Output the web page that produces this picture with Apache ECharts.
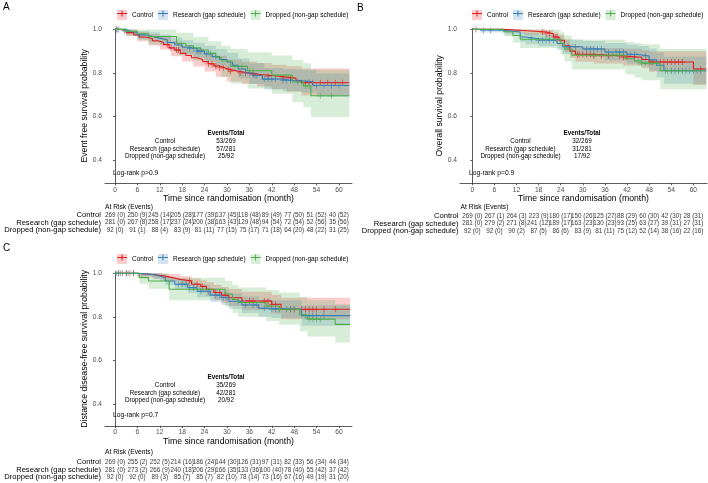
<!DOCTYPE html>
<html>
<head>
<meta charset="utf-8">
<script src="https://cdn.jsdelivr.net/npm/echarts@6/dist/echarts.min.js"></script>
<style>
  html, body { margin: 0; padding: 0; background: #fff; }
  #chart { width: 708px; height: 483px; }
</style>
</head>
<body>
<div id="chart"></div>
<script>
const groups = ['Control', 'Research (gap schedule)', 'Dropped (non-gap schedule)'];
const monthTicks = [0, 6, 12, 18, 24, 30, 36, 42, 48, 54, 60];
const probTicks = [0.4, 0.6, 0.8, 1.0];

// ---- A: event free survival ----
const efsControl = [[0,1],[1.5,0.995],[3,0.985],[5,0.975],[6.5,0.965],[8,0.958],[10,0.948],[11.5,0.94],[13,0.93],[14.5,0.915],[16,0.905],[17.5,0.89],[19,0.88],[20.5,0.87],[22,0.862],[23.5,0.852],[25,0.842],[26.5,0.832],[28,0.823],[29.5,0.815],[31,0.808],[33,0.8],[36,0.793],[39,0.785],[44,0.776],[48.5,0.765],[50,0.755],[62.8,0.755]];
const efsResearch = [[0,1],[2,0.993],[4,0.985],[6,0.975],[8,0.968],[10,0.96],[12,0.952],[14,0.94],[16,0.928],[18,0.918],[20,0.912],[22,0.9],[24,0.888],[26,0.875],[28,0.862],[30,0.85],[31.5,0.835],[33,0.818],[35,0.8],[37,0.788],[39.5,0.772],[44,0.765],[48,0.76],[53,0.742],[62.8,0.742]];
const efsDropped = [[0,1],[3,0.99],[6,0.98],[9,0.967],[16.5,0.935],[19,0.925],[21,0.915],[23,0.905],[25,0.89],[27,0.872],[28.5,0.855],[31,0.83],[35.5,0.81],[42,0.79],[47.5,0.758],[50.5,0.74],[52.5,0.695],[62.8,0.695]];
// [time, lower, upper]
const efsControlBand = [[0,1,1],[3,0.97,1],[6,0.945,0.987],[9,0.926,0.978],[12,0.908,0.968],[15,0.877,0.945],[18,0.853,0.928],[21,0.83,0.911],[24,0.806,0.895],[27,0.783,0.879],[30,0.761,0.862],[34,0.75,0.853],[38,0.738,0.846],[42,0.726,0.838],[46,0.714,0.831],[50,0.696,0.82],[62.8,0.696,0.82]];
const efsResearchBand = [[0,1,1],[3,0.978,1],[6,0.957,0.993],[9,0.943,0.987],[12,0.927,0.977],[15,0.907,0.963],[18,0.887,0.95],[21,0.871,0.939],[24,0.851,0.925],[27,0.83,0.91],[30,0.808,0.893],[33,0.776,0.866],[36,0.749,0.844],[40,0.724,0.823],[45,0.716,0.817],[50,0.71,0.813],[54,0.69,0.797],[62.8,0.69,0.797]];
const efsDroppedBand = [[0,1,1],[3,0.97,1],[6,0.951,1],[9,0.931,1],[16.5,0.884,0.985],[21,0.857,0.965],[25,0.825,0.945],[28.5,0.781,0.925],[31,0.752,0.91],[35.5,0.728,0.895],[42,0.704,0.88],[47.5,0.665,0.86],[50.5,0.643,0.845],[52.5,0.597,0.815],[62.8,0.597,0.815]];
const efsControlCensor = [0.5, 14, 15, 16.5, 17, 25, 26, 27, 28, 29, 30.5, 31, 33.5, 35, 37, 41, 45, 47, 51, 53, 55, 57, 59, 61];
const efsResearchCensor = [0.5, 1, 2.5, 3, 20, 21, 22, 22.5, 23, 24.5, 25.5, 27, 36, 37.5, 38, 40, 41, 42, 43, 45, 46, 47, 49, 52, 54, 56, 58, 60];
const efsDroppedCensor = [34, 36, 37, 50, 51, 52, 55, 58];
const efsRiskControl = ['269 (0)', '250 (9)', '245 (14)', '205 (28)', '177 (39)', '137 (45)', '118 (48)', '89 (49)', '77 (50)', '51 (52)', '40 (52)'];
const efsRiskResearch = ['281 (0)', '267 (8)', '258 (17)', '237 (24)', '200 (38)', '163 (43)', '129 (48)', '94 (54)', '72 (54)', '52 (56)', '35 (56)'];
const efsRiskDropped = ['92 (0)', '91 (1)', '88 (4)', '83 (9)', '81 (11)', '77 (15)', '75 (17)', '71 (18)', '64 (20)', '48 (22)', '31 (25)'];
const efsEvents = ['53/269', '57/281', '25/92'];

// ---- B: overall survival ----
const osControl = [[0,1],[8.5,0.995],[14,0.988],[20,0.98],[22,0.965],[23.5,0.95],[25,0.925],[26.5,0.9],[28,0.885],[33,0.878],[41,0.872],[46,0.862],[48,0.85],[60,0.818],[63.5,0.818]];
const osResearch = [[0,1],[2,0.995],[9,0.988],[13,0.965],[14.5,0.957],[18,0.95],[23,0.935],[24.5,0.92],[30,0.91],[36,0.896],[42,0.885],[45,0.878],[48,0.86],[50,0.835],[52,0.81],[63.5,0.81]];
const osDropped = [[0,1],[8.5,0.989],[11,0.972],[13,0.955],[24,0.935],[25,0.91],[27,0.882],[41.5,0.865],[44,0.855],[46,0.845],[51,0.81],[63.5,0.81]];
const osControlBand = [[0,1,1],[8.5,0.986,1],[14,0.975,1],[20,0.963,0.997],[22,0.944,0.986],[23.5,0.926,0.975],[25,0.897,0.954],[26.5,0.869,0.932],[28,0.851,0.92],[33,0.843,0.914],[41,0.834,0.911],[46,0.822,0.904],[48,0.805,0.9],[60,0.745,0.9],[63.5,0.745,0.9]];
const osResearchBand = [[0,1,1],[2,0.986,1],[9,0.975,1],[13,0.943,0.987],[14.5,0.932,0.982],[18,0.923,0.977],[23,0.905,0.966],[24.5,0.887,0.954],[30,0.874,0.947],[36,0.857,0.937],[42,0.843,0.929],[45,0.834,0.924],[48,0.811,0.912],[50,0.78,0.894],[52,0.75,0.874],[63.5,0.75,0.874]];
const osDroppedBand = [[0,1,1],[8.5,0.968,1],[11,0.939,1],[13,0.914,0.998],[24,0.885,0.987],[25,0.852,0.971],[27,0.816,0.952],[41.5,0.793,0.942],[44,0.779,0.937],[46,0.766,0.932],[51,0.725,0.91],[63.5,0.725,0.91]];
const osControlCensor = [1, 19, 20, 21, 22.5, 23, 28.5, 29, 30, 31, 32, 33, 35, 37, 40, 41, 42, 44, 48.5, 49, 50, 51, 52, 53, 54, 55, 56, 57, 62];
const osResearchCensor = [3, 5, 16, 18, 19, 20, 21, 22, 26, 28, 31, 32, 33, 34, 35, 37, 39, 40, 41, 43, 44, 47, 52.5, 54, 55, 56, 57, 58, 59, 60, 61, 62];
const osDroppedCensor = [33, 38, 40, 45, 46, 47, 48, 50, 53, 54, 56, 57];
const osRiskControl = ['269 (0)', '267 (1)', '264 (3)', '223 (9)', '180 (17)', '150 (26)', '125 (27)', '88 (29)', '60 (30)', '42 (30)', '28 (31)'];
const osRiskResearch = ['281 (0)', '279 (2)', '271 (8)', '241 (12)', '189 (17)', '163 (23)', '130 (23)', '93 (25)', '63 (27)', '39 (31)', '27 (31)'];
const osRiskDropped = ['92 (0)', '92 (0)', '90 (2)', '87 (5)', '86 (6)', '83 (9)', '81 (11)', '75 (12)', '52 (14)', '38 (16)', '22 (16)'];
const osEvents = ['32/269', '31/281', '17/92'];

// ---- C: distance disease-free survival ----
const ddfsControl = [[0,1],[6,0.993],[10.5,0.988],[13,0.98],[15.5,0.972],[17.5,0.965],[20.5,0.95],[23,0.94],[24.5,0.927],[26.5,0.912],[28.5,0.9],[30.5,0.888],[34,0.873],[42,0.858],[44.5,0.835],[63,0.835]];
const ddfsResearch = [[0,1],[6,0.995],[10,0.988],[12,0.98],[13.5,0.965],[16,0.95],[19.5,0.934],[22,0.918],[25.5,0.9],[28.5,0.888],[30.5,0.872],[34,0.855],[38.5,0.84],[42,0.835],[50,0.806],[63,0.806]];
const ddfsDropped = [[0,1],[6.5,0.98],[9,0.965],[14.5,0.927],[29.5,0.905],[31.5,0.88],[33,0.866],[40.5,0.85],[44,0.835],[49.5,0.81],[51.5,0.79],[59,0.766],[63,0.766]];
const ddfsControlBand = [[0,1,1],[6,0.983,1],[10.5,0.975,1],[13,0.963,0.997],[17.5,0.943,0.987],[20.5,0.925,0.976],[23,0.912,0.968],[24.5,0.896,0.959],[26.5,0.879,0.947],[28.5,0.864,0.937],[30.5,0.85,0.928],[34,0.833,0.915],[42,0.816,0.902],[44.5,0.79,0.888],[63,0.79,0.888]];
const ddfsResearchBand = [[0,1,1],[6,0.987,1],[10,0.976,1],[12,0.965,0.995],[13.5,0.946,0.984],[16,0.928,0.973],[19.5,0.909,0.96],[22,0.89,0.947],[25.5,0.869,0.932],[28.5,0.855,0.922],[30.5,0.837,0.909],[34,0.818,0.894],[38.5,0.801,0.881],[42,0.795,0.877],[50,0.76,0.854],[63,0.76,0.854]];
const ddfsDroppedBand = [[0,1,1],[6.5,0.952,1],[9,0.929,1],[14.5,0.876,0.98],[29.5,0.848,0.965],[31.5,0.818,0.946],[33,0.801,0.935],[40.5,0.782,0.923],[44,0.764,0.912],[49.5,0.734,0.893],[51.5,0.711,0.877],[59,0.683,0.858],[63,0.683,0.858]];
const ddfsControlCensor = [1, 2, 3, 4, 5, 20, 22, 23.5, 27, 28, 29.5, 36, 37, 40, 41, 42, 43, 47, 48, 50, 51, 52, 53, 54, 56, 59];
const ddfsResearchCensor = [0.5, 1, 1.5, 3, 3.5, 5, 17, 18, 19, 20, 21, 23, 25, 27, 28, 29, 30, 33, 35, 37, 38, 40, 42, 43, 44, 46, 47, 51, 52, 53, 54, 56];
const ddfsDroppedCensor = [41, 44, 46, 48, 50, 52, 53, 54, 55];
const ddfsRiskControl = ['269 (0)', '255 (2)', '252 (5)', '214 (16)', '186 (24)', '144 (30)', '126 (31)', '97 (31)', '82 (33)', '56 (34)', '44 (34)'];
const ddfsRiskResearch = ['281 (0)', '273 (2)', '266 (9)', '240 (18)', '206 (29)', '166 (35)', '133 (36)', '100 (40)', '78 (40)', '55 (42)', '37 (42)'];
const ddfsRiskDropped = ['92 (0)', '92 (0)', '89 (3)', '85 (7)', '85 (7)', '82 (10)', '78 (14)', '73 (16)', '67 (16)', '49 (19)', '31 (20)'];
const ddfsEvents = ['35/269', '42/281', '20/92'];

// ---- styling / layout ----
const font = '"Liberation Sans", Arial, Helvetica, sans-serif';
const colors = ['#E41A1C', '#377EB8', '#4DAF4A'];
const bandColors = ['rgba(228,26,28,0.22)', 'rgba(55,126,184,0.22)', 'rgba(77,175,74,0.22)'];
const plusPath = 'path://M4.4,0H5.6V10H4.4Z M0,4.4H10V5.6H0Z';
const keyPath = 'path://M0,4.5H10V5.5H0Z M4.5,2H5.5V8H4.5Z';

const panels = [
  {
    letter: 'A', yName: 'Event free survival probability', logrank: 'Log-rank p>0.9',
    curves: [efsControl, efsResearch, efsDropped],
    bands: [efsControlBand, efsResearchBand, efsDroppedBand],
    censors: [efsControlCensor, efsResearchCensor, efsDroppedCensor],
    risk: [efsRiskControl, efsRiskResearch, efsRiskDropped],
    events: efsEvents,
    plot: { left: 105, top: 28.3, width: 247, height: 155 }, xMin: -2.68, xMax: 63.5, yMin: 0.293, yMax: 1.005,
    tableTop: 211.3, tableMargin: 4, legend: { left: 117, top: 10 }, letterPos: [3, 2],
    logrankPos: [113, 173], eventsPos: [165, 226, 133.3], atRiskPos: [105, 207.3]
  },
  {
    letter: 'B', yName: 'Overall survival probability', logrank: 'Log-rank p=0.9',
    curves: [osControl, osResearch, osDropped],
    bands: [osControlBand, osResearchBand, osDroppedBand],
    censors: [osControlCensor, osResearchCensor, osDroppedCensor],
    risk: [osRiskControl, osRiskResearch, osRiskDropped],
    events: osEvents,
    plot: { left: 460, top: 28.3, width: 247, height: 155 }, xMin: -3.34, xMax: 63.7, yMin: 0.293, yMax: 1.005,
    tableTop: 212.3, tableMargin: 1.5, legend: { left: 472, top: 10 }, letterPos: [357, 3],
    logrankPos: [469, 173.3], eventsPos: [520.5, 582, 133.3], atRiskPos: [460.5, 207.3]
  },
  {
    letter: 'C', yName: 'Distance disease-free survival probability', logrank: 'Log-rank p=0.7',
    curves: [ddfsControl, ddfsResearch, ddfsDropped],
    bands: [ddfsControlBand, ddfsResearchBand, ddfsDroppedBand],
    censors: [ddfsControlCensor, ddfsResearchCensor, ddfsDroppedCensor],
    risk: [ddfsRiskControl, ddfsRiskResearch, ddfsRiskDropped],
    events: ddfsEvents,
    plot: { left: 105, top: 271.7, width: 247, height: 154.3 }, xMin: -2.68, xMax: 63.5, yMin: 0.3006, yMax: 1.0073,
    tableTop: 458.6, tableMargin: 4, legend: { left: 117, top: 254 }, letterPos: [3, 243],
    logrankPos: [113, 415], eventsPos: [165, 226, 377.3], atRiskPos: [105, 451.7]
  }
];

function survAt(curve, t) {
  let s = curve[0][1];
  for (const [ti, si] of curve) {
    if (ti <= t) s = si;
  }
  return s;
}

// step-shaped polygon for a confidence band, drawn once per band
function bandRenderer(band, fill) {
  return (params, api) => {
    if (params.dataIndex !== 0) return null;
    const pts = [];
    band.forEach((b, i) => {
      pts.push(api.coord([b[0], b[2]]));
      if (i + 1 < band.length) pts.push(api.coord([band[i + 1][0], b[2]]));
    });
    for (let i = band.length - 1; i >= 0; i--) {
      if (i + 1 < band.length) pts.push(api.coord([band[i + 1][0], band[i][1]]));
      pts.push(api.coord([band[i][0], band[i][1]]));
    }
    return { type: 'polygon', shape: { points: pts }, style: { fill } };
  };
}

const grid = [];
const xAxis = [];
const yAxis = [];
const series = [];
const legend = [];
const graphic = [];

const axisLabelStyle = { fontSize: 6.7, color: '#4D4D4D', fontFamily: font };

panels.forEach((p, pi) => {
  const gPlot = pi * 2;
  const gTable = pi * 2 + 1;

  grid.push({ ...p.plot, outerBoundsMode: 'none' });
  grid.push({ left: p.plot.left, width: p.plot.width, top: p.tableTop, height: 22.5, outerBoundsMode: 'none' });

  xAxis.push({
    gridIndex: gPlot, type: 'value', min: p.xMin, max: p.xMax,
    axisLine: { show: true, lineStyle: { color: '#333', width: 0.8 } },
    axisTick: { show: true, length: 2, customValues: monthTicks, lineStyle: { color: '#333', width: 0.8 } },
    axisLabel: { customValues: monthTicks, margin: 3, ...axisLabelStyle },
    splitLine: { show: false },
    name: 'Time since randomisation (month)', nameLocation: 'middle', nameGap: 10.5,
    nameTextStyle: { fontSize: 8.7, color: '#000', fontFamily: font }
  });
  xAxis.push({ gridIndex: gTable, type: 'value', min: p.xMin, max: p.xMax, show: false });

  yAxis.push({
    gridIndex: gPlot, type: 'value', min: p.yMin, max: p.yMax,
    axisLine: { show: true, lineStyle: { color: '#333', width: 0.8 } },
    axisTick: { show: true, length: 2, customValues: probTicks, lineStyle: { color: '#333', width: 0.8 } },
    axisLabel: { customValues: probTicks, margin: 3, formatter: (v) => v.toFixed(1), ...axisLabelStyle },
    splitLine: { show: false },
    name: p.yName, nameLocation: 'middle', nameGap: 11,
    nameTextStyle: { fontSize: 8.7, color: '#000', fontFamily: font }
  });
  yAxis.push({
    gridIndex: gTable, type: 'category', data: groups, inverse: true,
    axisLine: { show: false }, axisTick: { show: false },
    axisLabel: { interval: 0, fontSize: 7.6, color: '#000', margin: p.tableMargin, fontFamily: font }
  });

  p.bands.forEach((band, gi) => {
    series.push({
      type: 'custom', xAxisIndex: gPlot, yAxisIndex: gPlot, silent: true,
      encode: { x: 0, y: [1, 2] },
      renderItem: bandRenderer(band, bandColors[gi]),
      data: band
    });
  });

  p.curves.forEach((curve, gi) => {
    series.push({
      name: groups[gi], type: 'line', xAxisIndex: gPlot, yAxisIndex: gPlot, step: 'end', symbol: 'none',
      lineStyle: { color: colors[gi], width: 1.1 }, itemStyle: { color: colors[gi] }, data: curve
    });
  });

  p.censors.forEach((times, gi) => {
    series.push({
      name: groups[gi], type: 'scatter', xAxisIndex: gPlot, yAxisIndex: gPlot,
      symbol: plusPath, symbolSize: 6, itemStyle: { color: colors[gi] },
      data: times.map((t) => [t, survAt(p.curves[gi], t)])
    });
  });

  // risk table
  const riskData = [];
  p.risk.forEach((row, gi) => {
    row.forEach((txt, k) => riskData.push([monthTicks[k], groups[gi], txt]));
  });
  series.push({
    type: 'scatter', xAxisIndex: gTable, yAxisIndex: gTable, symbolSize: 1,
    itemStyle: { color: 'rgba(0,0,0,0)' }, silent: true,
    label: { show: true, position: 'inside', formatter: (d) => d.value[2], fontSize: 6.3, color: '#000', fontFamily: font },
    data: riskData
  });

  // legend: shaded key boxes underneath, line+plus keys on top
  const legendBase = {
    left: p.legend.left, top: p.legend.top, orient: 'horizontal', itemWidth: 10, itemHeight: 10,
    itemGap: 5, padding: 0, selectedMode: false
  };
  legend.push({
    ...legendBase,
    textStyle: { fontSize: 6.5, color: '#000', fontFamily: font },
    data: groups.map((g, gi) => ({ name: g, icon: 'rect', itemStyle: { color: bandColors[gi], borderWidth: 0 } }))
  });
  legend.push({
    ...legendBase,
    textStyle: { fontSize: 6.5, color: 'rgba(0,0,0,0)', fontFamily: font },
    data: groups.map((g, gi) => ({ name: g, icon: keyPath, itemStyle: { color: colors[gi], borderWidth: 0 } }))
  });

  // annotations
  const txt = (text, x, y, extra) => ({
    type: 'text', x, y, silent: true,
    style: { text, fontFamily: font, fill: '#000', align: 'left', verticalAlign: 'middle', ...extra }
  });
  graphic.push(txt(p.letter, p.letterPos[0], p.letterPos[1], { fontSize: 10, verticalAlign: 'top' }));
  graphic.push(txt(p.logrank, p.logrankPos[0], p.logrankPos[1], { fontSize: 6.7 }));
  graphic.push(txt('At Risk (Events)', p.atRiskPos[0], p.atRiskPos[1], { fontSize: 6.7 }));
  const [nx, vx, ey] = p.eventsPos;
  graphic.push(txt('Events/Total', vx, ey, { fontSize: 6.3, fontWeight: 'bold', align: 'center' }));
  const rowOffsets = [8, 15.7, 23.4];
  groups.forEach((g, gi) => {
    graphic.push(txt(g, nx, ey + rowOffsets[gi], { fontSize: 6.3, align: 'center' }));
    graphic.push(txt(p.events[gi], vx, ey + rowOffsets[gi], { fontSize: 6.3, align: 'center' }));
  });
});

const chart = echarts.init(document.getElementById('chart'), null, { renderer: 'canvas' });
chart.setOption({
  animation: false,
  backgroundColor: '#fff',
  textStyle: { fontFamily: font },
  grid, xAxis, yAxis, legend, series, graphic
});
</script>
</body>
</html>
